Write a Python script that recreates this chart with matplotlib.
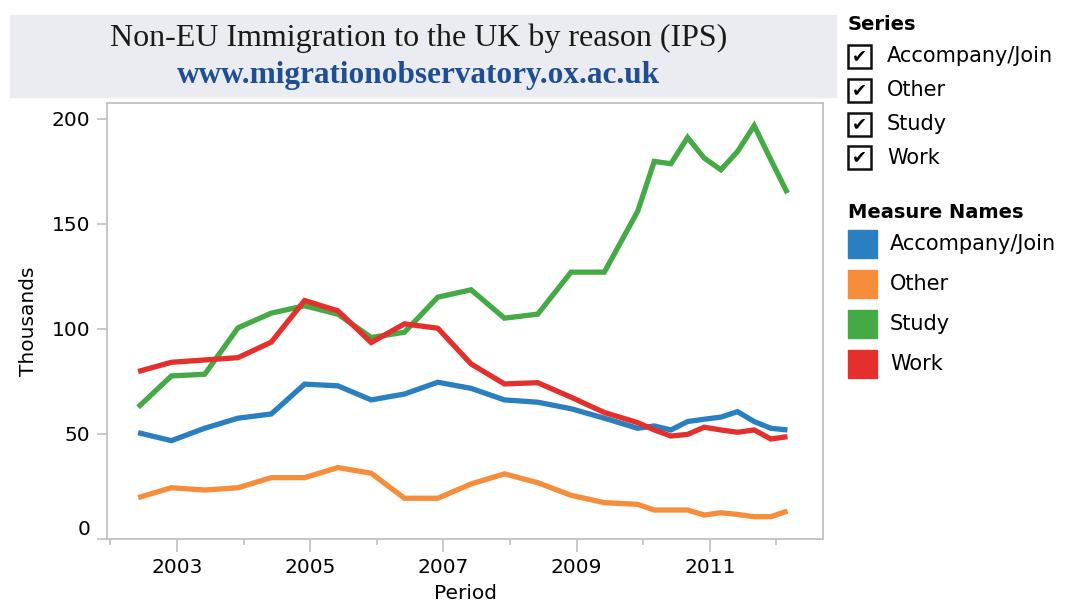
import numpy as np
import matplotlib.pyplot as plt
from matplotlib.patches import Rectangle

# rolling-year periods (year-month), half-yearly then quarterly
periods = ["2002-06", "2002-12", "2003-06", "2003-12", "2004-06", "2004-12",
           "2005-06", "2005-12", "2006-06", "2006-12", "2007-06", "2007-12",
           "2008-06", "2008-12", "2009-06", "2009-12", "2010-03", "2010-06",
           "2010-09", "2010-12", "2011-03", "2011-06", "2011-09", "2011-12",
           "2012-03"]

accompany = [50.6, 46.8, 52.7, 57.5, 59.5, 73.7, 72.9, 66.2, 69.0, 74.6, 71.7, 66.2,
             65.1, 62.0, 57.5, 52.7, 53.8, 51.9, 55.9, 57.0, 58.0, 60.6, 55.9, 52.7, 51.9]
other = [19.7, 24.4, 23.3, 24.4, 29.2, 29.2, 34.0, 31.3, 19.4, 19.4, 26.2, 31.0,
         26.8, 20.8, 17.3, 16.5, 13.8, 13.8, 13.8, 11.4, 12.5, 11.7, 10.6, 10.6, 13.3]
study = [62.7, 77.6, 78.4, 100.5, 107.5, 111.0, 107.0, 95.9, 98.4, 115.1, 118.6, 105.1,
         107.0, 127.0, 127.0, 155.9, 179.7, 178.6, 191.1, 181.3, 175.7, 184.4, 196.7, 180.5, 164.6]
work = [79.7, 84.1, 85.2, 86.3, 93.7, 113.5, 108.6, 93.5, 102.4, 100.3, 83.3, 73.8,
        74.4, 67.5, 60.2, 55.4, 51.9, 49.0, 49.8, 53.2, 51.9, 50.8, 51.9, 47.6, 48.7]

names = ["Accompany/Join", "Other", "Study", "Work"]
colors = ["#2a7fc0", "#f68d3b", "#45aa45", "#e3302c"]

x = np.array([int(p[:4]) + (int(p[5:]) - 1) / 12 for p in periods])

fig = plt.figure(figsize=(10.73, 6.06), dpi=100)
ax = fig.add_axes([107 / 1073, 1 - 539 / 606, (823 - 107) / 1073, (539 - 103) / 606])

for vals, c in zip([accompany, other, study, work], colors):
    ax.plot(x, vals, color=c, lw=3.8, solid_joinstyle="miter", solid_capstyle="butt")

ax.set_xlim(2001.95, 2012.7)
ax.set_ylim(0, 207.5)
ax.set_yticks([0, 50, 100, 150, 200])
ax.set_xticks([2003, 2005, 2007, 2009, 2011])
ax.set_xticks([2002, 2004, 2006, 2008, 2010, 2012], minor=True)

grey = "#c0c0c0"
for s in ax.spines.values():
    s.set_color(grey)
    s.set_linewidth(1.3)
ax.tick_params(axis="y", length=7, width=1.2, color=grey, labelsize=14.5, pad=5)
ax.tick_params(axis="x", which="major", length=9, width=1.2, color=grey, labelsize=14.5, pad=5)
ax.tick_params(axis="x", which="minor", length=4, width=1.2, color=grey)

# tableau nudges the bottom label up off the axis line
lbl0 = ax.get_yticklabels()[0]
lbl0.set_va("bottom")

ax.set_ylabel("Thousands", fontsize=14.5, labelpad=10)
ax.set_xlabel("Period", fontsize=14.5, labelpad=5)

# title banner
fig.patches.append(Rectangle((10 / 1073, 1 - 97 / 606), 826 / 1073, 82 / 606,
                             transform=fig.transFigure, color="#ebecf1", zorder=0))
fig.text(419 / 1073, 1 - 38 / 606, "Non-EU Immigration to the UK by reason (IPS)",
         ha="center", va="center", fontsize=23, family="Liberation Serif", color="#1a1a1a")
fig.text(418 / 1073, 1 - 75 / 606, "www.migrationobservatory.ox.ac.uk",
         ha="center", va="center", fontsize=22.5, family="Liberation Serif",
         fontweight="bold", color="#1f4f92")

# series filter legend
fig.text(848 / 1073, 1 - 25 / 606, "Series", fontsize=14, fontweight="bold", va="center")
for i, n in enumerate(names):
    yc = [56, 90, 124, 157.5][i]
    fig.patches.append(Rectangle((848 / 1073, 1 - (yc + 11.5) / 606), 23 / 1073, 23 / 606,
                                 transform=fig.transFigure, fill=False, ec="#111111", lw=1.8))
    fig.text(859.5 / 1073, 1 - yc / 606, "\u2714", ha="center", va="center", fontsize=13)
    fig.text(887 / 1073, 1 - yc / 606, n, fontsize=15, va="center")

# colour legend
fig.text(848 / 1073, 1 - 212 / 606, "Measure Names", fontsize=14, fontweight="bold", va="center")
for i, (n, c) in enumerate(zip(names, colors)):
    yc = 244 + 40 * i
    fig.patches.append(Rectangle((848 / 1073, 1 - (yc + 14) / 606), 29 / 1073, 28 / 606,
                                 transform=fig.transFigure, color=c))
    fig.text(890 / 1073, 1 - yc / 606, n, fontsize=15, va="center")

fig.savefig("out.png", dpi=100)
